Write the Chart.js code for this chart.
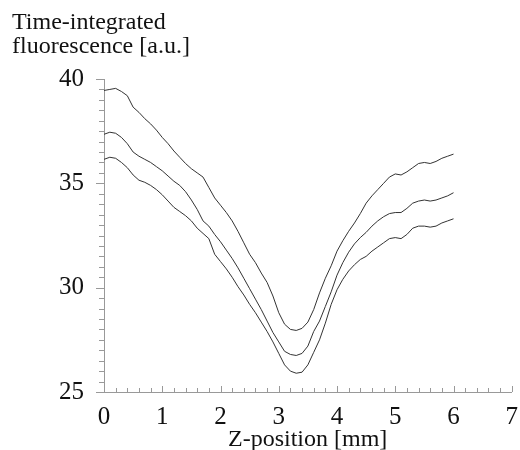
<!DOCTYPE html>
<html>
<head>
<meta charset="utf-8">
<script src="https://cdn.jsdelivr.net/npm/chart.js@4/dist/chart.umd.min.js"></script>
<style>
  html, body { margin: 0; padding: 0; background: #fff; }
  #wrap { position: relative; width: 520px; height: 450px; }
  .lbl { position: absolute; font-family: "Liberation Serif", "Times New Roman", serif; color: #111; white-space: nowrap; }
  #ytitle { left: 12px; top: 9px; font-size: 24px; line-height: 24px; }
  #xtitle { left: 228px; top: 426px; font-size: 24px; line-height: 24px; }
</style>
</head>
<body>
<div id="wrap">
  <canvas id="grafica" width="520" height="450"></canvas>
  <div id="ytitle" class="lbl">Time-integrated<br>fluorescence [a.u.]</div>
  <div id="xtitle" class="lbl">Z-position [mm]</div>
</div>
<script>
// posiciones en z (mm), paso de 0.1
const posZ = [0.0,0.1,0.2,0.3,0.4,0.5,0.6,0.7,0.8,0.9,1.0,1.1,1.2,1.3,1.4,1.5,1.6,1.7,1.8,1.9,2.0,2.1,2.2,2.3,2.4,2.5,2.6,2.7,2.8,2.9,3.0,3.1,3.2,3.3,3.4,3.5,3.6,3.7,3.8,3.9,4.0,4.1,4.2,4.3,4.4,4.5,4.6,4.7,4.8,4.9,5.0,5.1,5.2,5.3,5.4,5.5,5.6,5.7,5.8,5.9,6.0];

const curvaSuperior = [39.45,39.5,39.55,39.4,39.2,38.65,38.4,38.1,37.85,37.55,37.2,36.9,36.55,36.25,35.95,35.7,35.5,35.3,34.8,34.3,33.95,33.6,33.2,32.7,32.15,31.6,31.2,30.7,30.25,29.6,28.8,28.25,28.0,27.95,28.05,28.35,28.95,29.75,30.45,31.05,31.75,32.25,32.7,33.1,33.55,34.05,34.4,34.7,35.0,35.3,35.45,35.4,35.55,35.75,35.95,36.0,35.95,36.05,36.2,36.3,36.4];

const curvaMedia = [37.35,37.45,37.4,37.2,36.9,36.5,36.3,36.15,36.0,35.8,35.6,35.35,35.1,34.9,34.6,34.2,33.75,33.2,32.95,32.55,32.2,31.8,31.4,30.95,30.45,29.95,29.45,28.95,28.4,27.85,27.4,26.95,26.8,26.75,26.85,27.2,27.9,28.4,29.1,29.8,30.6,31.2,31.7,32.1,32.4,32.65,32.95,33.2,33.4,33.55,33.6,33.6,33.8,34.05,34.15,34.2,34.15,34.2,34.3,34.4,34.55];

const curvaInferior = [36.15,36.25,36.2,36.0,35.75,35.4,35.15,35.05,34.9,34.7,34.45,34.15,33.85,33.65,33.45,33.2,32.85,32.6,32.35,31.6,31.25,30.9,30.5,30.05,29.65,29.2,28.8,28.35,27.9,27.4,26.85,26.3,26.0,25.9,25.95,26.3,26.9,27.5,28.3,29.2,29.9,30.4,30.8,31.1,31.35,31.5,31.75,31.95,32.15,32.35,32.4,32.35,32.55,32.85,32.95,32.95,32.9,32.95,33.1,33.2,33.3];

const ticksY = [25, 30, 35, 40];
const ticksX = [0, 1, 2, 3, 4, 5, 6, 7];

const serie = (vals) => ({
    data: posZ.map((z, i) => ({ x: z, y: vals[i] })),
    borderColor: "#333",
    borderWidth: 1,
    pointRadius: 0,
    tension: 0,
    fill: false
});

// marcas menores y mayores dibujadas con las escalas
const marcas = {
    id: "marcas",
    afterDraw(chart) {
        const { ctx, chartArea, scales } = chart;
        ctx.save();
        ctx.strokeStyle = "#999";
        ctx.lineWidth = 1;
        ctx.beginPath();
        for (let k = 0; k <= 30; k++) {
            const v = 25 + k * 0.5;
            const y = Math.round(scales.y.getPixelForValue(v)) + 0.5;
            const len = (k % 10 === 0) ? 8 : 5;
            ctx.moveTo(chartArea.left - len, y);
            ctx.lineTo(chartArea.left, y);
        }
        for (let k = 0; k <= 35; k++) {
            const v = k * 0.2;
            const x = Math.round(scales.x.getPixelForValue(v)) + 0.5;
            const len = (k % 5 === 0) ? 6 : 4;
            ctx.moveTo(x, chartArea.bottom);
            ctx.lineTo(x, chartArea.bottom - len);
        }
        ctx.stroke();
        ctx.restore();
    }
};

const fuente = { family: "'Liberation Serif', 'Times New Roman', serif", size: 25 };

new Chart(document.getElementById("grafica").getContext("2d"), {
    type: "line",
    data: { datasets: [serie(curvaSuperior), serie(curvaMedia), serie(curvaInferior)] },
    options: {
        responsive: false,
        animation: false,
        layout: { padding: { top: 79, right: 8, left: 0, bottom: 0 } },
        plugins: { legend: { display: false }, tooltip: { enabled: false } },
        scales: {
            x: {
                type: "linear", min: 0, max: 7,
                afterFit: s => { s.height = 58; },
                afterBuildTicks: s => { s.ticks = ticksX.map(v => ({ value: v })); },
                grid: { display: false },
                border: { display: true, color: "#999", width: 1 },
                ticks: { font: fuente, color: "#111", padding: 2, maxRotation: 0 }
            },
            y: {
                type: "linear", min: 25, max: 40,
                afterFit: s => { s.width = 104; },
                afterBuildTicks: s => { s.ticks = ticksY.map(v => ({ value: v })); },
                grid: { display: false },
                border: { display: true, color: "#999", width: 1 },
                ticks: { font: fuente, color: "#111", padding: 12 }
            }
        }
    },
    plugins: [marcas]
});
</script>
</body>
</html>
